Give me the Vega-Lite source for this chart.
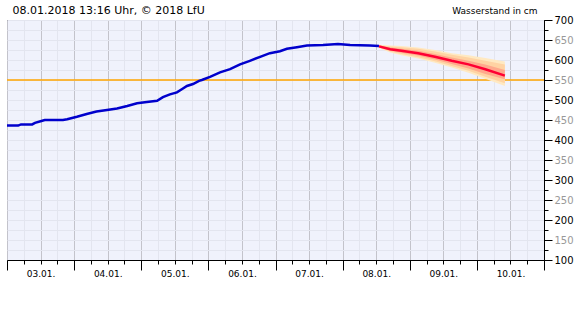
{
  "$schema": "https://vega.github.io/schema/vega-lite/v6.json",
  "width": 537,
  "height": 240,
  "autosize": {"type": "none"},
  "padding": {"left": 7, "top": 20, "right": 36, "bottom": 60},
  "background": "white",
  "config": {
    "view": {"fill": "#F0F2FC", "stroke": "black", "strokeWidth": 1},
    "font": "DejaVu Sans",
    "axis": {"labelFont": "DejaVu Sans", "titleFont": "DejaVu Sans", "tickColor": "black", "domainColor": "black", "labelColor": "black"}
  },
  "datasets": {
    "level": [{"level": 550}],
    "obs": [
      {"t": "2018-01-03T00:00", "v": 436},
      {"t": "2018-01-03T04:00", "v": 436},
      {"t": "2018-01-03T05:00", "v": 439},
      {"t": "2018-01-03T09:00", "v": 439},
      {"t": "2018-01-03T10:00", "v": 443},
      {"t": "2018-01-03T12:00", "v": 447},
      {"t": "2018-01-03T13:30", "v": 450},
      {"t": "2018-01-03T20:00", "v": 450},
      {"t": "2018-01-03T21:30", "v": 452},
      {"t": "2018-01-04T01:00", "v": 458},
      {"t": "2018-01-04T04:30", "v": 465},
      {"t": "2018-01-04T08:00", "v": 471},
      {"t": "2018-01-04T11:45", "v": 475},
      {"t": "2018-01-04T15:20", "v": 479},
      {"t": "2018-01-04T19:00", "v": 485},
      {"t": "2018-01-04T22:30", "v": 492},
      {"t": "2018-01-05T02:00", "v": 495},
      {"t": "2018-01-05T05:40", "v": 498},
      {"t": "2018-01-05T07:45", "v": 507},
      {"t": "2018-01-05T10:15", "v": 514},
      {"t": "2018-01-05T12:45", "v": 519},
      {"t": "2018-01-05T14:30", "v": 527},
      {"t": "2018-01-05T16:20", "v": 535},
      {"t": "2018-01-05T18:30", "v": 540},
      {"t": "2018-01-05T20:40", "v": 548},
      {"t": "2018-01-05T21:40", "v": 550},
      {"t": "2018-01-06T00:35", "v": 558},
      {"t": "2018-01-06T04:10", "v": 569},
      {"t": "2018-01-06T07:45", "v": 577},
      {"t": "2018-01-06T11:20", "v": 589},
      {"t": "2018-01-06T14:50", "v": 598},
      {"t": "2018-01-06T18:30", "v": 608},
      {"t": "2018-01-06T22:00", "v": 617},
      {"t": "2018-01-07T01:35", "v": 622},
      {"t": "2018-01-07T04:05", "v": 628},
      {"t": "2018-01-07T07:40", "v": 632},
      {"t": "2018-01-07T11:15", "v": 636},
      {"t": "2018-01-07T17:00", "v": 637.5},
      {"t": "2018-01-07T22:20", "v": 640},
      {"t": "2018-01-08T02:40", "v": 637.5},
      {"t": "2018-01-08T09:45", "v": 636},
      {"t": "2018-01-08T13:00", "v": 635}
    ],
    "fc": [
      {"t": "2018-01-08T13:00", "med": 634, "lo1": 630, "hi1": 638, "lo2": 631, "hi2": 637, "lo3": 632, "hi3": 636},
      {"t": "2018-01-08T17:00", "med": 627, "lo1": 619, "hi1": 636, "lo2": 621, "hi2": 634, "lo3": 624, "hi3": 631},
      {"t": "2018-01-08T21:00", "med": 623, "lo1": 612, "hi1": 635, "lo2": 615, "hi2": 632, "lo3": 618, "hi3": 628},
      {"t": "2018-01-09T03:00", "med": 617, "lo1": 604, "hi1": 631, "lo2": 607, "hi2": 628, "lo3": 611, "hi3": 623},
      {"t": "2018-01-09T09:00", "med": 608, "lo1": 593, "hi1": 625, "lo2": 597, "hi2": 621, "lo3": 601, "hi3": 615},
      {"t": "2018-01-09T15:00", "med": 598, "lo1": 581, "hi1": 617, "lo2": 585, "hi2": 613, "lo3": 590, "hi3": 606},
      {"t": "2018-01-09T21:00", "med": 589, "lo1": 568, "hi1": 612, "lo2": 573, "hi2": 606, "lo3": 579, "hi3": 598},
      {"t": "2018-01-10T03:00", "med": 577, "lo1": 553, "hi1": 605, "lo2": 558, "hi2": 598, "lo3": 565, "hi3": 589},
      {"t": "2018-01-10T10:00", "med": 561, "lo1": 535, "hi1": 596, "lo2": 542, "hi2": 589, "lo3": 552, "hi3": 575}
    ]
  },
  "layer": [
    {
      "data": {"name": "level"},
      "mark": {"type": "rule", "color": "#FFA500", "strokeWidth": 1.5},
      "encoding": {
        "y": {"field": "level", "type": "quantitative",
          "scale": {"domain": [100, 700], "nice": false, "zero": false},
          "axis": {"orient": "right", "values": [100,125,150,175,200,225,250,275,300,325,350,375,400,425,450,475,500,525,550,575,600,625,650,675,700],
            "grid": true, "gridColor": "#E3E5EF", "gridWidth": 1, "ticks": true, "tickSize": 4, "labels": false, "domain": false, "title": null}}
      }
    },
    {
      "data": {"name": "fc"},
      "mark": {"type": "area", "color": "#FFE9C2", "opacity": 1},
      "encoding": {
        "x": {"field": "t", "type": "temporal",
          "scale": {"domain": [{"year": 2018, "month": 1, "date": 3}, {"year": 2018, "month": 1, "date": 11}]},
          "axis": {"orient": "bottom", "values": [
            {"year": 2018, "month": 1, "date": 3, "hours": 6}, {"year": 2018, "month": 1, "date": 3, "hours": 18},
            {"year": 2018, "month": 1, "date": 4, "hours": 6}, {"year": 2018, "month": 1, "date": 4, "hours": 18},
            {"year": 2018, "month": 1, "date": 5, "hours": 6}, {"year": 2018, "month": 1, "date": 5, "hours": 18},
            {"year": 2018, "month": 1, "date": 6, "hours": 6}, {"year": 2018, "month": 1, "date": 6, "hours": 18},
            {"year": 2018, "month": 1, "date": 7, "hours": 6}, {"year": 2018, "month": 1, "date": 7, "hours": 18},
            {"year": 2018, "month": 1, "date": 8, "hours": 6}, {"year": 2018, "month": 1, "date": 8, "hours": 18},
            {"year": 2018, "month": 1, "date": 9, "hours": 6}, {"year": 2018, "month": 1, "date": 9, "hours": 18},
            {"year": 2018, "month": 1, "date": 10, "hours": 6}, {"year": 2018, "month": 1, "date": 10, "hours": 18}],
            "grid": true, "gridColor": "#E3E5EF", "ticks": true, "tickSize": 4, "labels": false, "domain": false, "title": null}},
        "y": {"field": "lo1", "type": "quantitative",
          "axis": {"orient": "right", "values": [100,150,200,250,300,350,400,450,500,550,600,650,700], "grid": false, "ticks": true, "tickSize": 8, "labelPadding": 2, "labelFontSize": 10,
            "labelColor": {"expr": "datum.value % 100 === 0 ? 'black' : '#999999'"}, "labelBaseline": "middle",
            "domain": true, "title": "Wasserstand in cm", "titleAngle": 0, "titleX": -7, "titleY": -7, "titleAlign": "right", "titleBaseline": "alphabetic", "titleFontSize": 9, "titleFontWeight": "normal", "titleColor": "black"}},
        "y2": {"field": "hi1"}
      }
    },
    {
      "data": {"name": "fc"},
      "mark": {"type": "area", "color": "#FFD3A3", "opacity": 1},
      "encoding": {
        "x": {"field": "t", "type": "temporal",
          "axis": {"orient": "bottom", "values": [
            {"year": 2018, "month": 1, "date": 3, "hours": 12},
            {"year": 2018, "month": 1, "date": 4, "hours": 12},
            {"year": 2018, "month": 1, "date": 5, "hours": 12},
            {"year": 2018, "month": 1, "date": 6, "hours": 12},
            {"year": 2018, "month": 1, "date": 7, "hours": 12},
            {"year": 2018, "month": 1, "date": 8, "hours": 12},
            {"year": 2018, "month": 1, "date": 9, "hours": 12},
            {"year": 2018, "month": 1, "date": 10, "hours": 12}],
            "format": "%d.%m.", "grid": true, "gridColor": "#C3C3CB", "ticks": true, "tickSize": 4, "labelPadding": 5, "labelFontSize": 9, "labelBaseline": "top", "domain": false, "title": null}},
        "y": {"field": "lo2", "type": "quantitative",
          "axis": {"orient": "left", "grid": false, "ticks": false, "labels": false, "domain": false,
            "title": "08.01.2018 13:16 Uhr, © 2018 LfU", "titleAngle": 0, "titleX": 5, "titleY": -7, "titleAlign": "left", "titleBaseline": "alphabetic", "titleFontSize": 11, "titleFontWeight": "normal", "titleColor": "black"}},
        "y2": {"field": "hi2"}
      }
    },
    {
      "data": {"name": "fc"},
      "mark": {"type": "area", "color": "#FFA98C", "opacity": 1},
      "encoding": {
        "x": {"field": "t", "type": "temporal",
          "axis": {"orient": "bottom", "values": [
            {"year": 2018, "month": 1, "date": 3}, {"year": 2018, "month": 1, "date": 4},
            {"year": 2018, "month": 1, "date": 5}, {"year": 2018, "month": 1, "date": 6},
            {"year": 2018, "month": 1, "date": 7}, {"year": 2018, "month": 1, "date": 8},
            {"year": 2018, "month": 1, "date": 9}, {"year": 2018, "month": 1, "date": 10},
            {"year": 2018, "month": 1, "date": 11}],
            "grid": true, "gridColor": "#C3C3CB", "ticks": true, "tickSize": 10, "labels": false, "domain": true, "title": null}},
        "y": {"field": "lo3", "type": "quantitative", "axis": null},
        "y2": {"field": "hi3"}
      }
    },
    {
      "data": {"name": "obs"},
      "mark": {"type": "line", "color": "#0000CC", "strokeWidth": 2.5},
      "encoding": {
        "x": {"field": "t", "type": "temporal", "axis": null},
        "y": {"field": "v", "type": "quantitative", "axis": null}
      }
    },
    {
      "data": {"name": "fc"},
      "mark": {"type": "line", "color": "#FF0033", "strokeWidth": 2.5},
      "encoding": {
        "x": {"field": "t", "type": "temporal", "axis": null},
        "y": {"field": "med", "type": "quantitative", "axis": null}
      }
    }
  ],
  "resolve": {"axis": {"x": "independent", "y": "independent"}}
}
